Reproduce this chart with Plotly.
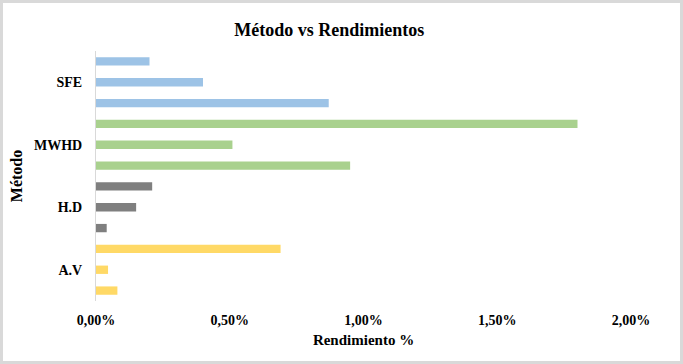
import plotly.graph_objects as go

methods = ["A.V", "H.D", "MWHD", "SFE"]
colors = ["#FFD966", "#7F7F7F", "#A9D18E", "#9DC3E6"]
# values (fraction) listed bottom-to-top within each method
values = {
    "A.V": [0.0008, 0.00045, 0.0069],
    "H.D": [0.0004, 0.0015, 0.0021],
    "MWHD": [0.0095, 0.0051, 0.0180],
    "SFE": [0.0087, 0.0040, 0.0020],
}
x_ticks = [0, 0.005, 0.01, 0.015, 0.02]

fig = go.Figure()
for i, (m, c) in enumerate(zip(methods, colors)):
    vals = values[m]
    fig.add_trace(go.Bar(
        x=vals,
        y=[i * 3 + k for k in range(len(vals))],
        orientation="h",
        marker=dict(color=c, line=dict(width=0)),
        width=0.4,
        name=m,
        showlegend=False,
        hoverinfo="x",
    ))

serif = "Liberation Serif"
L, R, T, B = 96, 52, 51, 63
PW, PH = 683 - L - R, 364 - T - B
fig.update_layout(
    width=683, height=364,
    margin=dict(l=L, r=R, t=T, b=B, autoexpand=False),
    paper_bgcolor="white", plot_bgcolor="white",
    separators=",.",
    title=dict(text="<b>Método vs Rendimientos</b>", x=0.482, xanchor="center",
               y=0.919, yanchor="middle",
               font=dict(family=serif, size=18, color="black")),
    font=dict(family=serif, color="black"),
    xaxis=dict(range=[0, 0.02], tickvals=x_ticks, tickformat=".2%",
               showgrid=False, zeroline=False, showline=False, automargin=False,
               tickfont=dict(family=serif, size=14, color="black", weight="bold"),
               ticklabelstandoff=9,
               title=dict(text="<b>Rendimiento %</b>", standoff=7,
                          font=dict(family=serif, size=15, color="black"))),
    yaxis=dict(range=[-0.5, 11.5], tickvals=[1, 4, 7, 10], ticktext=methods,
               showgrid=False, zeroline=False, showline=True, automargin=False,
               linecolor="#D9D9D9", linewidth=1,
               tickfont=dict(family=serif, size=14, color="black", weight="bold"),
               ticklabelstandoff=10,
               title=dict(text="<b>Método</b>", standoff=7,
                          font=dict(family=serif, size=16, color="black"))),
)
fig.add_shape(type="rect", xref="paper", yref="paper",
              x0=-(L - 1.5) / PW, x1=1 + (R - 1.5) / PW,
              y0=-(B - 1.5) / PH, y1=1 + (T - 1.5) / PH,
              line=dict(color="#D9D9D9", width=3))

fig.write_html("out.html", config={"displayModeBar": False},
               post_script="document.body.style.margin='0';")
